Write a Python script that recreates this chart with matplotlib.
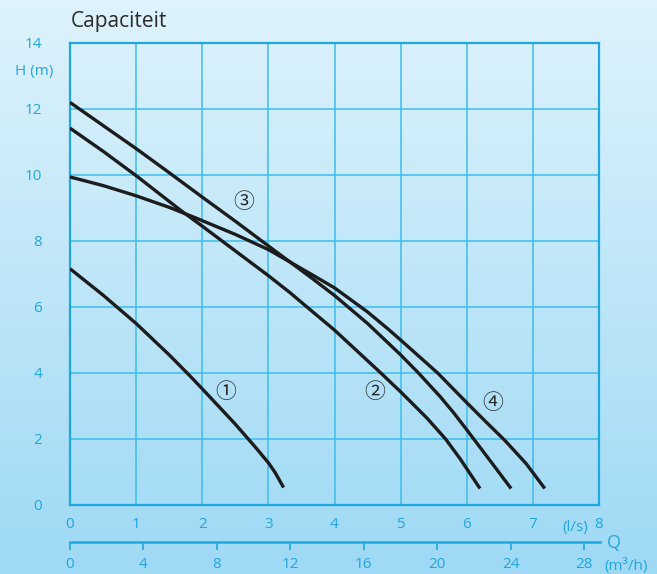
import numpy as np
import matplotlib
matplotlib.use("Agg")
import matplotlib.pyplot as plt

# pump curves, Q in l/s, H in m
q1 = [0, 0.5, 1, 1.5, 1.82, 2, 2.5, 2.8, 3, 3.1, 3.23]
h1 = [7.16, 6.36, 5.5, 4.55, 3.9, 3.52, 2.45, 1.76, 1.28, 0.99, 0.53]

q2 = [0, 0.5, 1, 1.66, 2, 2.5, 3, 3.33, 3.56, 4, 4.69, 5, 5.4, 5.68, 5.9, 6.2]
h2 = [11.42, 10.72, 9.98, 8.95, 8.45, 7.7, 6.95, 6.43, 6.04, 5.3, 4.02, 3.43, 2.63, 2.0, 1.4, 0.5]

q3 = [0, 0.5, 1, 1.5, 2, 2.5, 3, 3.33, 3.66, 4, 4.5, 4.69, 5, 5.27, 5.6, 5.8, 6, 6.4, 6.67]
h3 = [12.2, 11.5, 10.8, 10.07, 9.33, 8.6, 7.85, 7.36, 6.87, 6.35, 5.5, 5.14, 4.55, 4.0, 3.28, 2.8, 2.28, 1.22, 0.5]

q4 = [0, 0.5, 1, 1.5, 1.9, 2.5, 3, 3.33, 3.66, 4, 4.5, 4.8, 5, 5.56, 6, 6.3, 6.58, 6.9, 7.18]
h4 = [9.94, 9.68, 9.37, 9.02, 8.7, 8.2, 7.74, 7.36, 6.98, 6.58, 5.85, 5.35, 5.0, 4.0, 3.1, 2.5, 1.95, 1.25, 0.5]

curve_labels = ["\u2460", "\u2461", "\u2462", "\u2463"]
label_q = [2.36, 4.61, 2.63, 6.40]
label_h = [3.41, 3.42, 9.19, 3.10]

q_ticks = list(range(0, 9))
h_ticks = list(range(0, 15, 2))
m3h_ticks = list(range(0, 29, 4))

BLUE = "#1fa8e0"
GRID = "#3bbdee"
TEXT = "#22a6df"
FONT = "Open Sans"

plt.rcParams["font.family"] = [FONT, "DejaVu Sans"]

W, H = 657, 574
fig = plt.figure(figsize=(W / 100, H / 100), dpi=100)

# background gradient over the whole figure
bg = fig.add_axes([0, 0, 1, 1])
bg.axis("off")
top = np.array([222, 243, 252]) / 255
bottom = np.array([158, 217, 245]) / 255
t = np.linspace(0, 1, 256)[:, None, None]
img = top * (1 - t) + bottom * t
img = np.repeat(img, 2, axis=1)
bg.imshow(img, aspect="auto", extent=[0, 1, 0, 1], zorder=0)

ax = fig.add_axes([70 / W, 1 - 505 / H, 529 / W, 462 / H])
ax.set_facecolor("none")
ax.set_xlim(0, 8)
ax.set_ylim(0, 14)
ax.set_xticks(q_ticks)
ax.set_yticks(h_ticks)
ax.grid(True, color=GRID, linewidth=1.1, zorder=1)
for sp in ax.spines.values():
    sp.set_color(BLUE)
    sp.set_linewidth(1.6)
ax.tick_params(length=0, labelcolor=TEXT, labelsize=11)
ax.tick_params(axis="x", pad=9)
ax.tick_params(axis="y", pad=20)

for q, h in [(q1, h1), (q2, h2), (q3, h3), (q4, h4)]:
    ax.plot(q, h, color="#1c1c1c", linewidth=2.4, solid_capstyle="butt",
            solid_joinstyle="round", zorder=3)

for lab, x, y in zip(curve_labels, label_q, label_h):
    ax.text(x, y, lab, ha="center", va="center", fontsize=15, color="#2a2a2a",
            family=["Noto Sans CJK JP", "DejaVu Sans"], zorder=4)

# second Q axis in m3/h
ax2 = fig.add_axes([70 / W, 1 - 542 / H, 530 / W, 0.0001])
ax2.set_facecolor("none")
ax2.set_xlim(0, 8 * 3.6 * 530 / 529)
ax2.set_xticks(m3h_ticks)
ax2.set_yticks([])
for s in ["top", "left", "right"]:
    ax2.spines[s].set_visible(False)
ax2.spines["bottom"].set_color(BLUE)
ax2.spines["bottom"].set_linewidth(1.8)
ax2.tick_params(axis="x", direction="out", length=6, width=1.2, color=BLUE,
                labelcolor=TEXT, labelsize=11, pad=5)

fig.text(71 / W, 1 - 27 / H, "Capaciteit", fontsize=15, color="#2b2b2b", va="baseline", ha="left")
fig.text(34 / W, 1 - 71 / H, "H (m)", fontsize=11, color=TEXT, ha="center", va="center")
fig.text(575 / W, 1 - 528 / H, "(l/s)", fontsize=11, color=TEXT, ha="center", va="center")
fig.text(614 / W, 1 - 543 / H, "Q", fontsize=13, color=TEXT, ha="center", va="center")
fig.text(626 / W, 1 - 566 / H, "(m\u00b3/h)", fontsize=11, color=TEXT, ha="center", va="center")

fig.savefig("out.png", dpi=100)
